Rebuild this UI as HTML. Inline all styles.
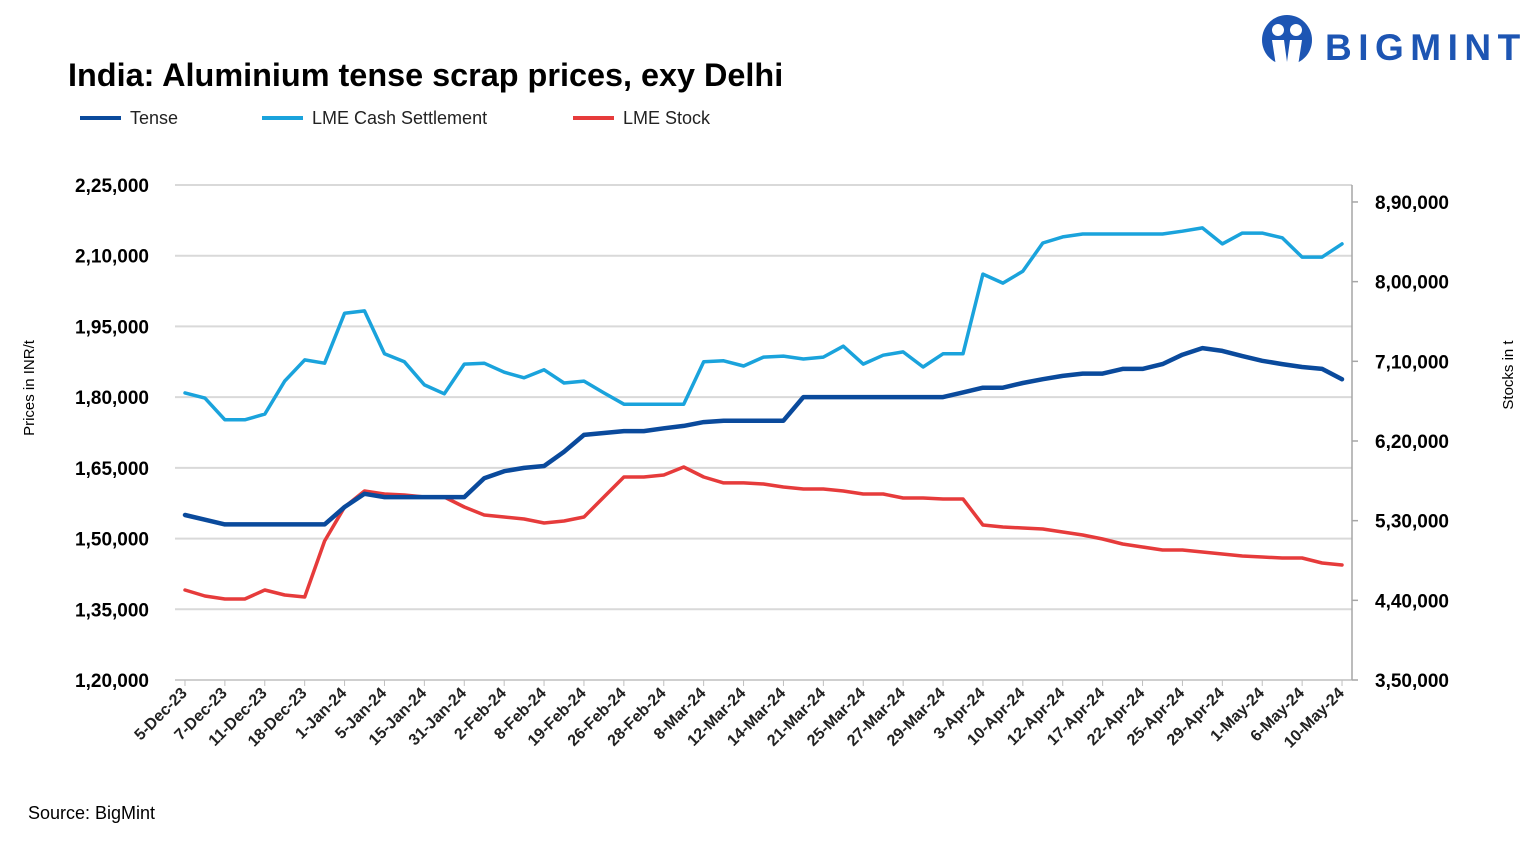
<!DOCTYPE html>
<html><head><meta charset="utf-8">
<style>
html,body{margin:0;padding:0;background:#fff;}
body{width:1533px;height:844px;overflow:hidden;font-family:"Liberation Sans",sans-serif;}
svg text{font-family:"Liberation Sans",sans-serif;}
</style></head>
<body>
<svg id="chart" width="1533" height="844" viewBox="0 0 1533 844" xmlns="http://www.w3.org/2000/svg">
  <g>
    <circle cx="1287" cy="40" r="25" fill="#1d55b3"/>
    <circle cx="1278" cy="30" r="6" fill="#fff"/>
    <circle cx="1296" cy="30" r="6" fill="#fff"/>
    <path d="M1272 40 L1284 40 L1287 62 L1290 40 L1302 40 L1298 66 L1276 66 Z" fill="#fff"/>
    <text x="1325" y="60" font-size="37" font-weight="bold" fill="#1d55b3" letter-spacing="6.5">BIGMINT</text>
  </g>
  <text x="68" y="86" font-size="32.4" font-weight="bold" fill="#000">India: Aluminium tense scrap prices, exy Delhi</text>
  <g id="legend"></g>
  <g id="grid"></g>
  <g id="axes"></g>
  <g id="series"></g>
  <text transform="translate(34,388) rotate(-90)" text-anchor="middle" font-size="15" fill="#000">Prices in INR/t</text>
  <text transform="translate(1513,375) rotate(-90)" text-anchor="middle" font-size="15" fill="#000">Stocks in t</text>
  <text x="28" y="819" font-size="18" fill="#000">Source: BigMint</text>
</svg>
<script>
const categories = ["5-Dec-23","6-Dec-23","7-Dec-23","8-Dec-23","11-Dec-23","14-Dec-23","18-Dec-23","28-Dec-23","1-Jan-24","3-Jan-24","5-Jan-24","10-Jan-24","15-Jan-24","24-Jan-24","31-Jan-24","1-Feb-24","2-Feb-24","6-Feb-24","8-Feb-24","15-Feb-24","19-Feb-24","22-Feb-24","26-Feb-24","27-Feb-24","28-Feb-24","5-Mar-24","8-Mar-24","11-Mar-24","12-Mar-24","13-Mar-24","14-Mar-24","19-Mar-24","21-Mar-24","22-Mar-24","25-Mar-24","26-Mar-24","27-Mar-24","28-Mar-24","29-Mar-24","2-Apr-24","3-Apr-24","8-Apr-24","10-Apr-24","11-Apr-24","12-Apr-24","15-Apr-24","17-Apr-24","19-Apr-24","22-Apr-24","23-Apr-24","25-Apr-24","26-Apr-24","29-Apr-24","30-Apr-24","1-May-24","3-May-24","6-May-24","8-May-24","10-May-24"];
const tenseValues = [155000,154000,153000,153000,153000,153000,153000,153000,156700,159500,158800,158800,158800,158800,158800,162800,164300,165000,165400,168400,172000,172400,172800,172800,173400,173900,174700,175000,175000,175000,175000,180000,180000,180000,180000,180000,180000,180000,180000,181000,182000,182000,183000,183800,184500,185000,185000,186000,186000,187000,189000,190400,189800,188700,187700,187000,186400,186000,183800];
const lmeCashValues = [180900,179800,175200,175200,176400,183400,187900,187200,197800,198300,189200,187500,182600,180700,187000,187200,185300,184100,185800,183000,183400,180900,178500,178500,178500,178500,187500,187700,186600,188500,188700,188100,188500,190800,187000,188900,189600,186400,189200,189200,206100,204200,206700,212700,214000,214600,214600,214600,214600,214600,215200,215900,212500,214800,214800,213800,209700,209700,212500];
const lmeStockValues = [451700,444900,441500,441500,451700,446000,443800,507000,545400,563500,560100,559000,556700,556700,545400,536400,534100,531900,527400,529600,534100,556700,579300,579300,581600,590600,579300,572600,572600,571400,568000,565800,565800,563500,560100,560100,555600,555600,554500,554500,525100,522800,521700,520600,517200,513800,509300,503600,500300,496900,496900,494600,492300,490100,489000,487800,487800,482200,479900];
const leftTicks = [120000,135000,150000,165000,180000,195000,210000,225000];
const leftTickLabels = ["1,20,000","1,35,000","1,50,000","1,65,000","1,80,000","1,95,000","2,10,000","2,25,000"];
const rightTicks = [350000,440000,530000,620000,710000,800000,890000];
const rightTickLabels = ["3,50,000","4,40,000","5,30,000","6,20,000","7,10,000","8,00,000","8,90,000"];
const seriesNames = ["Tense","LME Cash Settlement","LME Stock"];

const NS="http://www.w3.org/2000/svg";
const PL=175, PR=1352, PT=185, PB=680;
const LMIN=120000, LMAX=225000, RMIN=350000, RSTEP_PX=79.67, RSTEP=90000;
const step=(PR-PL)/categories.length;
function xPos(i){return PL+(i+0.5)*step;}
function yLeft(v){return PB-(v-LMIN)/(LMAX-LMIN)*(PB-PT);}
function yRight(v){return PB-(v-RMIN)/RSTEP*RSTEP_PX;}
function mk(tag,attrs,parent){const e=document.createElementNS(NS,tag);for(const k in attrs)e.setAttribute(k,attrs[k]);parent.appendChild(e);return e;}

const grid=document.getElementById('grid'), axes=document.getElementById('axes'), series=document.getElementById('series'), legend=document.getElementById('legend');
leftTicks.forEach((t,i)=>{
  const y=yLeft(t);
  if(i>0){const g=mk('line',{x1:PL,x2:PR,y1:y,y2:y,stroke:'#d9d9d9','stroke-width':2},grid);
  
  }
  const tx=mk('text',{x:149,y:y+7,'text-anchor':'end','font-size':19,'font-weight':'bold',fill:'#000'},axes);
  tx.textContent=leftTickLabels[i];
  
  
});
const xa=mk('line',{x1:PL,x2:PR,y1:PB,y2:PB,stroke:'#bfbfbf','stroke-width':1.5},axes);


const ra=mk('line',{x1:PR,x2:PR,y1:PT,y2:PB,stroke:'#a6a6a6','stroke-width':1.5},axes);


rightTicks.forEach((t,i)=>{
  const y=yRight(t);
  mk('line',{x1:PR,x2:PR+6,y1:y,y2:y,stroke:'#a6a6a6','stroke-width':1.5},axes);
  const tx=mk('text',{x:1375,y:y+7,'font-size':19,'font-weight':'bold',fill:'#000'},axes);
  tx.textContent=rightTickLabels[i];
  
  
});
categories.forEach((c,i)=>{
  if(i%2!==0)return;
  const x=xPos(i);
  mk('line',{x1:x,x2:x,y1:PB,y2:PB+6,stroke:'#bfbfbf','stroke-width':1},axes);
  const tx=mk('text',{transform:`translate(${x+3},${PB+14}) rotate(-45)`,'text-anchor':'end','font-size':16,'font-weight':'bold',fill:'#222'},axes);
  tx.textContent=c;
  
  
});
function drawLine(vals,yf,color,w,name){
  const d=vals.map((v,i)=>(i?'L':'M')+xPos(i).toFixed(1)+' '+yf(v).toFixed(1)).join(' ');
  const p=mk('path',{d:d,fill:'none',stroke:color,'stroke-width':w,'stroke-linejoin':'round','stroke-linecap':'round'},series);
  
  
}
drawLine(lmeStockValues,yRight,'#e63b3b',3.5,'lme-stock-line');
drawLine(lmeCashValues,yLeft,'#1aa3dc',3.5,'lme-cash-line');
drawLine(tenseValues,yLeft,'#0a4a9c',4.5,'tense-line');

const legColors=['#0a4a9c','#1aa3dc','#e63b3b'];
const legX=[80,262,573];
seriesNames.forEach((n,i)=>{
  const g=mk('g',{},legend);
  
  
  mk('line',{x1:legX[i],x2:legX[i]+41,y1:118,y2:118,stroke:legColors[i],'stroke-width':4},g);
  const t=mk('text',{x:legX[i]+50,y:124,'font-size':18,fill:'#222'},g);
  t.textContent=n;
});
</script>
</body></html>
